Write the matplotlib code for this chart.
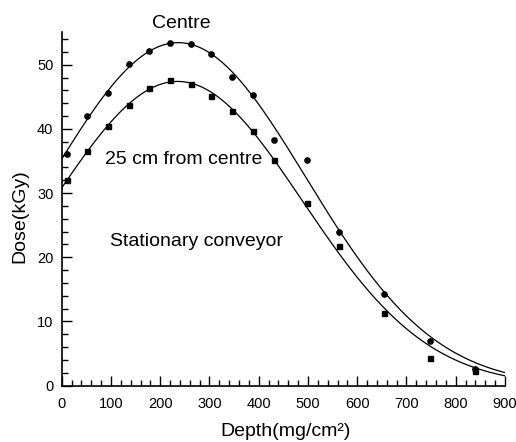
import numpy as np
import matplotlib
matplotlib.use("Agg")
import matplotlib.pyplot as plt
from matplotlib.ticker import MultipleLocator

plt.rcParams['font.family'] = ['Liberation Sans', 'DejaVu Sans']

# Depth-dose measurements (depth in mg/cm^2, dose in kGy)
depth = [10, 52, 94, 136, 178, 220, 262, 304, 346, 388, 430, 497, 563, 655, 747, 840]
dose_centre = [36.1, 42.0, 45.6, 50.1, 52.2, 53.4, 53.3, 51.6, 48.1, 45.3, 38.3, 35.1,
               23.9, 14.3, 7.0, 2.6]
dose_25cm = [32.0, 36.6, 40.5, 43.8, 46.4, 47.6, 47.0, 45.2, 42.8, 39.6, 35.1, 28.4,
             21.8, 11.3, 4.3, 2.3]

x_ticks = [0, 100, 200, 300, 400, 500, 600, 700, 800, 900]
y_ticks = [0, 10, 20, 30, 40, 50]


def gauss_fit(x, y):
    """Weighted log-quadratic (Gaussian) fit; returns a callable."""
    x = np.asarray(x, float)
    y = np.asarray(y, float)
    c = np.polyfit(x, np.log(y), 2, w=y)
    return lambda t: np.exp(np.polyval(c, t))


fig = plt.figure(figsize=(5.16, 4.42), dpi=100)
ax = fig.add_axes([0.1196, 0.1274, 0.8591, 0.8002])

xs = np.linspace(0, 900, 400)
for d, marker in ((dose_centre, 'o'), (dose_25cm, 's')):
    f = gauss_fit(depth, d)
    ax.plot(xs, f(xs), color='black', lw=0.9)
    ax.plot(depth, d, linestyle='none', marker=marker, color='black',
            markersize=3.8 if marker == 'o' else 3.6)

ax.set_xlim(0, 900)
ax.set_ylim(0, 55.1)
ax.set_xticks(x_ticks)
ax.set_yticks(y_ticks)
ax.xaxis.set_minor_locator(MultipleLocator(20))
ax.yaxis.set_minor_locator(MultipleLocator(2))
ax.tick_params(which='both', direction='in', width=1.0, labelsize=10.5)
ax.tick_params(which='major', length=7)
ax.tick_params(which='minor', length=4)
ax.tick_params(axis='x', which='major', pad=8)
ax.tick_params(axis='y', which='major', pad=6)
ax.spines['top'].set_visible(False)
ax.spines['right'].set_visible(False)
for s in ('left', 'bottom'):
    ax.spines[s].set_linewidth(1.2)

ax.text(242, 56.4, 'Centre', fontsize=14, ha='center', va='center', clip_on=False)
ax.text(88, 35.2, '25 cm from centre', fontsize=14, ha='left', va='center')
ax.text(98, 22.5, 'Stationary conveyor', fontsize=14, ha='left', va='center')

fig.text(286 / 516, 1 - 431 / 442, 'Depth(mg/cm²)', fontsize=14, ha='center', va='center')
fig.text(20 / 516, 1 - 216 / 442, 'Dose(kGy)', fontsize=14, ha='center', va='center',
         rotation=90)

fig.savefig('out.png', dpi=100)
